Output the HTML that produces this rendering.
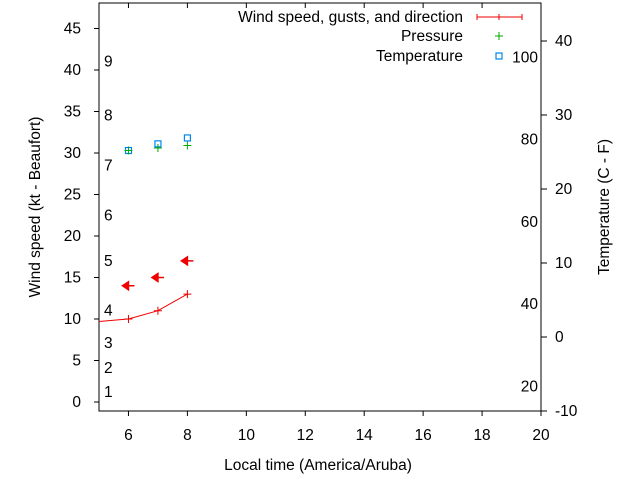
<!DOCTYPE html>
<html><head><meta charset="utf-8"><style>
body{margin:0;background:#fff}
svg text{font-family:"Liberation Sans",sans-serif;font-size:15.5px;fill:#000}
</style></head><body>
<svg id="c" width="640" height="480" xmlns="http://www.w3.org/2000/svg">
<g id="g"></g>
</svg>
<script>
const xTicks=[6,8,10,12,14,16,18,20];
const yTicks=[0,5,10,15,20,25,30,35,40,45];
const y2Ticks=[-10,0,10,20,30,40];
const fLabels=[20,40,60,80,100];
const beaufort=[1,2,3,4,5,6,7,8,9];
const beaufortKt=[1.2,4.1,7.1,11,17,22.5,28.5,34.5,41];
const windTimes=[5,6,7,8];
const windSpeed=[9.7,10,11,13];
const gustTimes=[6,7,8];
const gustSpeed=[14,15,17];
const presTimes=[6,7,8];
const pressure=[30.3,30.6,30.9];
const tempTimes=[6,7,8];
const tempC=[25.2,26.1,26.9];

const L=99,R=541,T=3,B=411;
const X=v=>L+(v-5)*(R-L)/15;
const Y=v=>402-v*8.3;
const Y2=v=>411-(v+10)*7.4;
const FtoY=f=>Y2((f-32)*5/9);
const NS="http://www.w3.org/2000/svg";
const g=document.getElementById('g');
function el(t,a,txt){const e=document.createElementNS(NS,t);for(const k in a)e.setAttribute(k,a[k]);if(txt!==undefined)e.textContent=txt;g.appendChild(e);return e;}

let e=el('rect',{x:L,y:T,width:R-L,height:B-T,fill:'none',stroke:'#000','stroke-width':1});


xTicks.forEach(v=>{
 let t=el('line',{x1:X(v),x2:X(v),y1:B,y2:B+5,stroke:'#000'});
 
 
 let t2=el('line',{x1:X(v),x2:X(v),y1:T,y2:T+5,stroke:'#000'});
 
 
 let l=el('text',{x:X(v),y:440,'text-anchor':'middle'},v);
 
 
});
yTicks.forEach(v=>{
 let t=el('line',{x1:L-5,x2:L,y1:Y(v),y2:Y(v),stroke:'#000'});
 
 
 let l=el('text',{x:L-18,y:Y(v)+5,'text-anchor':'end'},v);
 
 
});
y2Ticks.forEach(v=>{
 let t=el('line',{x1:R,x2:R+6,y1:Y2(v),y2:Y2(v),stroke:'#000'});
 
 
 let l=el('text',{x:R+14,y:Y2(v)+5},v);
 
 
});
fLabels.forEach(v=>{
 let l=el('text',{x:538,y:FtoY(v)+5,'text-anchor':'end'},v);
 
 
});
beaufort.forEach((v,i)=>{
 let l=el('text',{x:104,y:Y(beaufortKt[i])+5},v);
 
 
});
let pts=windTimes.map((t,i)=>X(t)+','+Y(windSpeed[i])).join(' ');
e=el('polyline',{points:pts,fill:'none',stroke:'#e00','stroke-width':1});


windTimes.forEach((t,i)=>{if(t<=5)return;
 let p=el('path',{d:`M${X(t)-4},${Y(windSpeed[i])}h8M${X(t)},${Y(windSpeed[i])-4}v8`,stroke:'#e00'});
 
 
});
gustTimes.forEach((t,i)=>{
 const x=X(t),y=Y(gustSpeed[i]);
 let p=el('path',{d:`M${x-6},${y}l6,-4v8zM${x},${y}h6`,fill:'#e00',stroke:'#e00','stroke-width':1.5});
 
 
});
tempTimes.forEach((t,i)=>{
 let p=el('rect',{x:X(t)-3,y:Y2(tempC[i])-3,width:6,height:6,fill:'none',stroke:'#08e','stroke-width':1.2});
 
 
});
presTimes.forEach((t,i)=>{
 let p=el('path',{d:`M${X(t)-4},${Y(pressure[i])}h8M${X(t)},${Y(pressure[i])-4}v8`,stroke:'#0a0'});
 
 
});
[['Wind speed, gusts, and direction',22,'legend-wind'],['Pressure',41,'legend-pressure'],['Temperature',61,'legend-temperature']].forEach(a=>{
 let l=el('text',{x:463,y:a[1],'text-anchor':'end'},a[0]);
 
 
});
e=el('path',{d:'M477,17h45M477,14v6M522,14v6M499,14v6',stroke:'#e00'});


e=el('path',{d:'M495,36h8M499,32v8',stroke:'#0a0'});


e=el('rect',{x:496,y:53,width:6,height:6,fill:'none',stroke:'#08e','stroke-width':1.2});


e=el('text',{x:318,y:470,'text-anchor':'middle'},'Local time (America/Aruba)');


e=el('text',{x:40,y:207,'text-anchor':'middle',transform:'rotate(-90 40 207)'},'Wind speed (kt - Beaufort)');


e=el('text',{x:609,y:207,'text-anchor':'middle',transform:'rotate(-90 609 207)'},'Temperature (C - F)');


</script>
</body></html>
